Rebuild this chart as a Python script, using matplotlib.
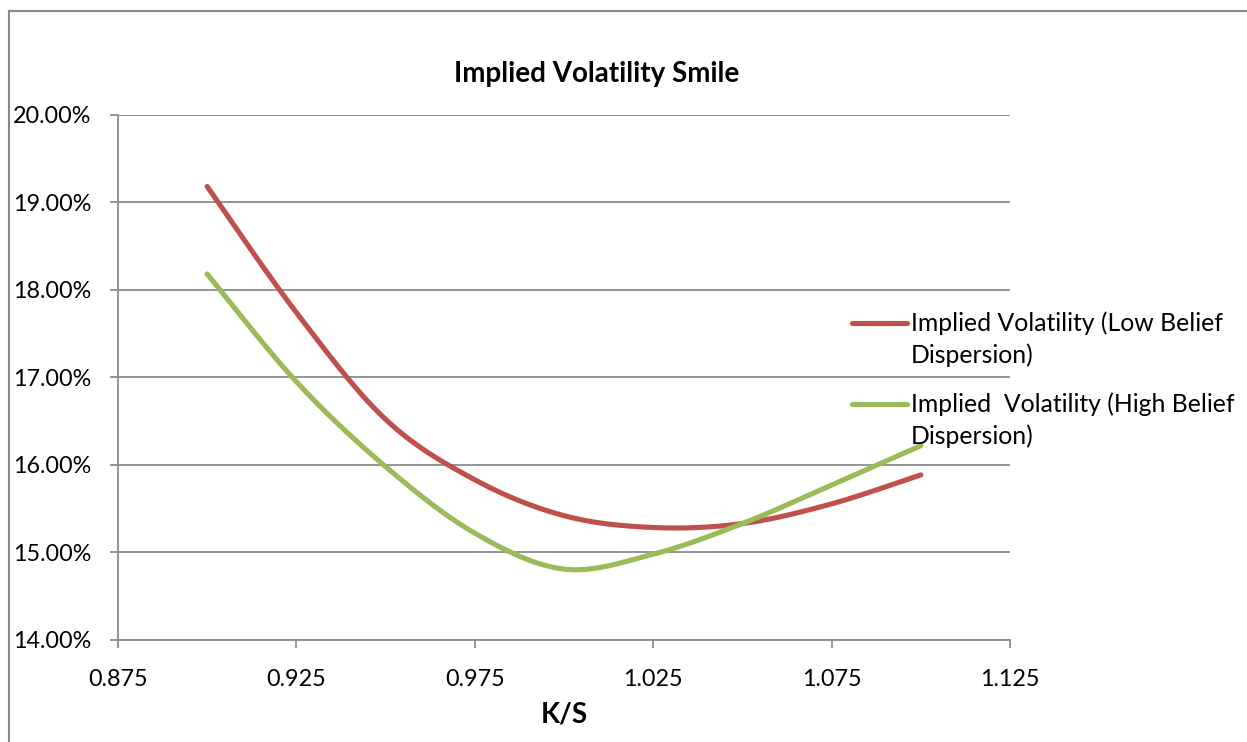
import matplotlib
matplotlib.use('Agg')
import matplotlib.pyplot as plt
from matplotlib.lines import Line2D
from matplotlib.ticker import FuncFormatter
import numpy as np

# K/S points and implied vols (%)
ks = [0.9, 0.925, 0.95, 0.975, 1.0, 1.025, 1.05, 1.075, 1.1]
iv_low = [19.18, 17.74, 16.52, 15.83, 15.42, 15.285, 15.33, 15.555, 15.886]
iv_high = [18.18, 16.95, 15.98, 15.22, 14.81, 14.98, 15.33, 15.77, 16.22]

labels = ['Implied Volatility (Low Belief', 'Implied  Volatility (High Belief']
x_ticks = [0.875, 0.925, 0.975, 1.025, 1.075, 1.125]
y_ticks = [14, 15, 16, 17, 18, 19, 20]

red = '#C0504D'
green = '#9BBB59'
grid_col = '#8C8C8C'

plt.rcParams['font.family'] = ['Lato', 'DejaVu Sans']


def smooth(x, y, n=30):
    # Excel-style smoothed line (Catmull-Rom as cubic Bezier)
    p = np.column_stack([x, y]).astype(float)
    p = np.vstack([p[0], p, p[-1]])
    out = []
    t = np.linspace(0, 1, n)[:, None]
    for i in range(1, len(p) - 2):
        p0, p1, p2, p3 = p[i - 1], p[i], p[i + 1], p[i + 2]
        c1 = p1 + (p2 - p0) / 6
        c2 = p2 - (p3 - p1) / 6
        seg = ((1 - t) ** 3) * p1 + 3 * ((1 - t) ** 2) * t * c1 + 3 * (1 - t) * t ** 2 * c2 + t ** 3 * p2
        out.append(seg if i == 1 else seg[1:])
    out = np.vstack(out)
    return out[:, 0], out[:, 1]


W, H = 1247, 742
fig = plt.figure(figsize=(W / 100, H / 100), dpi=100)
ax = fig.add_axes([118 / W, 1 - 640 / H, (1010 - 118) / W, (640 - 114.7) / H])

for vals, c in [(iv_low, red), (iv_high, green)]:
    sx, sy = smooth(ks, vals)
    ax.plot(sx, sy, color=c, lw=3.7, solid_capstyle='round', zorder=3)

ax.set_xlim(0.875, 1.125)
ax.set_ylim(14, 20)
ax.set_xticks(x_ticks)
ax.set_yticks(y_ticks)
ax.xaxis.set_major_formatter(FuncFormatter(lambda v, p: '%.3f' % v))
ax.yaxis.set_major_formatter(FuncFormatter(lambda v, p: '%.2f%%' % v))
ax.grid(axis='y', color=grid_col, lw=1.3)
ax.set_axisbelow(True)
for s in ['top', 'right']:
    ax.spines[s].set_visible(False)
for s in ['left', 'bottom']:
    ax.spines[s].set_color(grid_col)
    ax.spines[s].set_linewidth(1.3)
ax.tick_params(axis='both', direction='out', length=6, width=1.3, color=grid_col,
               labelsize=16.8, labelcolor='black')
ax.tick_params(axis='y', pad=13)
ax.tick_params(axis='x', pad=15)
ax.set_xlabel('K/S', fontsize=20, fontweight='bold', labelpad=8)

fig.text(597 / W, 1 - 74 / H, 'Implied Volatility Smile', fontsize=20, fontweight='bold',
         ha='center', va='center')

# legend drawn by hand to keep Excel's two-line layout
for i, (c, lab) in enumerate(zip([red, green], labels)):
    ly = [323, 404][i]
    fig.add_artist(Line2D([852 / W, 907 / W], [1 - ly / H] * 2, color=c, lw=3.7,
                          solid_capstyle='round'))
    fig.text(911 / W, 1 - (ly + 8) / H, lab, fontsize=17.8, va='baseline', ha='left')
    fig.text(911 / W, 1 - (ly + 40) / H, 'Dispersion)', fontsize=17.8, va='baseline', ha='left')

# outer chart frame (cropped)
fig.add_artist(Line2D([9 / W, 1], [1 - 11 / H] * 2, color='#888888', lw=1.5))
fig.add_artist(Line2D([9 / W] * 2, [0, 1 - 11 / H], color='#888888', lw=1.5))

fig.savefig('out.png', dpi=100)
